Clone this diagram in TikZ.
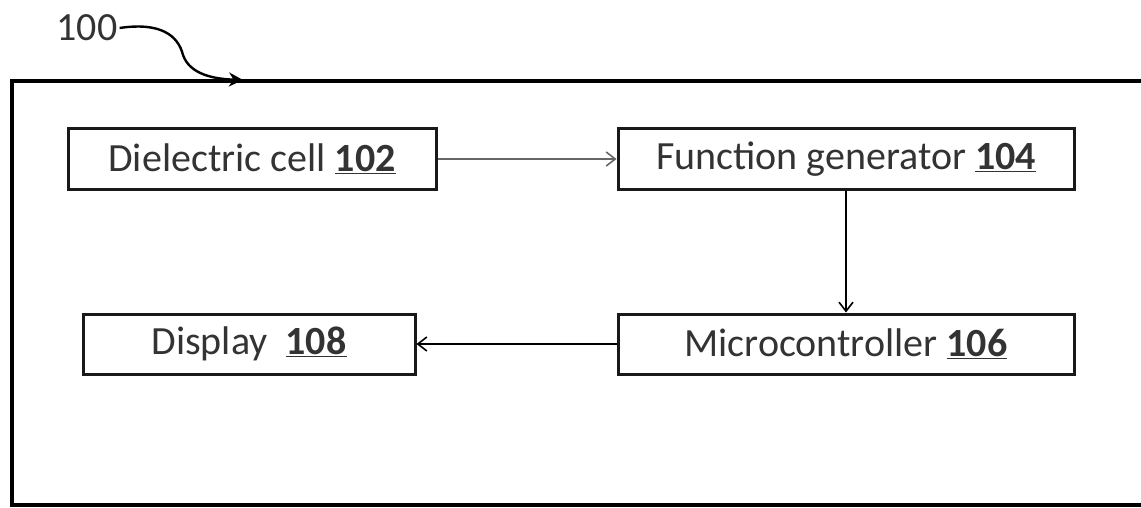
\documentclass[tikz,border=0pt]{standalone}
\usepackage{fontspec}
\setmainfont{Carlito}
\usetikzlibrary{arrows.meta}
\begin{document}
\begin{tikzpicture}[x=1pt,y=-1pt,
  blockbox/.style={draw=black!90, line width=3pt, minimum height=61pt, inner sep=0pt, font=\fontsize{40}{46}\selectfont, text=black!80},
  conn/.style={line width=1.6pt, -{Straight Barb[length=9pt,width=14pt,line width=1.6pt]}}]
\useasboundingbox (0,0) rectangle (1141,508);
% outer frame (right side beyond picture)
\draw[line width=4.5pt, black] (1160,81) -- (12,81) -- (12,505) -- (1160,505);
\node[blockbox, minimum width=368pt] (dc) at (252,159) {Dielectric cell \underline{\textbf{102}}};
\node[blockbox, minimum width=456pt] (fg) at (846,159) {Function generator \underline{\textbf{104}}};
\node[blockbox, minimum width=332pt, minimum height=60pt] (dp) at (249,344) {Display\ \ \underline{\textbf{108}}};
\node[blockbox, minimum width=456pt, minimum height=60pt] (mc) at (846,344) {Microcontroller \underline{\textbf{106}}};
\draw[conn, draw=black!60] (dc.east) -- (fg.west);
\draw[conn] (fg.south) -- (mc.north);
\draw[conn] (mc.west) -- (dp.east);
% label 100
\node[font=\fontsize{40}{46}\selectfont, text=black!80, inner sep=2pt] (lbl) at (87,28) {100};
\coordinate (tip) at (243,80);
\draw[line width=2.4pt, -{Stealth[length=14pt,width=14pt]}] (lbl.east) .. controls (160,22) and (178,35) .. (183,55) .. controls (190,75) and (215,79) .. (tip);
\end{tikzpicture}
\end{document}
